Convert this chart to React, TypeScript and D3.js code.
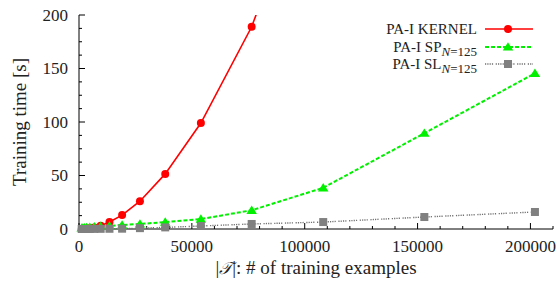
import React from 'react';
import * as d3 from 'd3';

// training set sizes (shared by all three runs)
const sizes = [1200, 1700, 2400, 3400, 4800, 6800, 9600, 13500, 19100, 27000, 38200, 54000, 76500, 108200, 153000, 202000];

// training time in seconds
const kernelTimes = [0.1, 0.2, 0.3, 0.5, 0.8, 1.5, 3, 6.5, 13, 26, 51.5, 99, 189, 370];
const spTimes = [1, 1, 1.2, 1.4, 1.7, 2, 2.5, 3, 3.7, 4.7, 6.5, 9.3, 17.5, 38.5, 89.5, 145.5];
const slTimes = [0, 0, 0, 0, 0.05, 0.1, 0.15, 0.2, 0.3, 0.8, 1.5, 2.8, 4.7, 6.5, 11.2, 15.9];

const xTicks = [0, 50000, 100000, 150000, 200000];
const yTicks = [0, 50, 100, 150, 200];

const width = 560;
const height = 284;
const margin = { top: 15, right: 7, bottom: 55, left: 79 };
const font = '"Liberation Serif", "Times New Roman", serif';

const red = '#ff0000';
const green = '#00f000';
const gray = '#808080';
const grayDash = '1.2,1.1,1.2,1.1,1.2,1.1,1.2,2.6';

const App = () => {
  const x = d3.scaleLinear().domain([0, 210000]).range([margin.left, width - margin.right]);
  const y = d3.scaleLinear().domain([0, 200]).range([height - margin.bottom, margin.top]);

  const line = d3.line<[number, number]>()
    .x(d => x(d[0]))
    .y(d => y(d[1]));

  const pairs = (vals: number[]) => vals.map((v, i) => [sizes[i], v] as [number, number]);
  const inside = (d: [number, number]) => d[1] <= 200 && d[0] <= 210000;

  const kernel = pairs(kernelTimes);
  const sp = pairs(spTimes);
  const sl = pairs(slTimes);

  const xMinor = d3.range(0, 210001, 10000);
  const yMinor = d3.range(0, 200.1, 12.5);
  const x0 = margin.left;
  const y0 = height - margin.bottom;

  const tri = (cx: number, cy: number, s: number) =>
    `M${cx},${cy - s} L${cx + s * 1.1},${cy + s * 0.75} L${cx - s * 1.1},${cy + s * 0.75} Z`;

  const legendRows = [
    { main: 'PA-I KERNEL', sub: false },
    { main: 'PA-I SP', sub: true },
    { main: 'PA-I SL', sub: true },
  ];
  const legendY = [29, 47, 64];
  const lx1 = 485;
  const lx2 = 533;
  const lxm = 508;

  return (
    <svg width={width} height={height} style={{ position: 'absolute', left: 0, top: 0, background: '#fff' }}>
      <defs>
        <clipPath id="plotArea">
          <rect x={margin.left} y={margin.top} width={width - margin.left - margin.right} height={y0 - margin.top} />
        </clipPath>
      </defs>

      {/* axes */}
      <g stroke="#000" strokeWidth={1} fill="none">
        <line x1={x0} y1={margin.top} x2={x0} y2={y0} />
        <line x1={x0} y1={y0} x2={width - margin.right} y2={y0} />
        {yMinor.map(t => (
          <line key={'yt' + t} x1={x0} x2={x0 + (t % 50 === 0 ? 6 : 3)} y1={y(t)} y2={y(t)} />
        ))}
        {xMinor.map(t => (
          <line key={'xt' + t} x1={x(t)} x2={x(t)} y1={y0} y2={y0 - (t % 50000 === 0 ? 6 : 3)} />
        ))}
      </g>

      <g fontFamily={font} fontSize={17} fill="#222">
        {yTicks.map(t => (
          <text key={'yl' + t} x={68} y={y(t)} dy="0.35em" textAnchor="end">{t}</text>
        ))}
        {xTicks.map(t => (
          <text key={'xl' + t} x={x(t)} y={252} textAnchor="middle">{t}</text>
        ))}
      </g>

      <g fontFamily={font} fontSize={19} fill="#222">
        <text transform={`translate(26,${(margin.top + y0) / 2}) rotate(-90)`} textAnchor="middle">Training time [s]</text>
        <text x={(x0 + width - margin.right) / 2} y={274} textAnchor="middle">
          |<tspan fontStyle="italic" fontFamily='"DejaVu Serif", serif' fontSize={17}>𝒯</tspan>|: # of training examples
        </text>
      </g>

      {/* series */}
      <g clipPath="url(#plotArea)" fill="none">
        <path d={line(kernel) || ''} stroke={red} strokeWidth={1.6} />
        <path d={line(sp) || ''} stroke={green} strokeWidth={2} strokeDasharray="4,2" />
        <path d={line(sl) || ''} stroke="#707070" strokeWidth={1.4} strokeDasharray={grayDash} />
      </g>
      <g fill={red}>
        {kernel.filter(inside).map(d => (
          <circle key={'k' + d[0]} cx={x(d[0])} cy={y(d[1])} r={4} />
        ))}
      </g>
      <g fill={green}>
        {sp.filter(inside).map(d => (
          <path key={'s' + d[0]} d={tri(x(d[0]), y(d[1]), 4.8)} />
        ))}
      </g>
      <g fill={gray}>
        {sl.filter(inside).map(d => (
          <rect key={'l' + d[0]} x={x(d[0]) - 4} y={y(d[1]) - 4} width={8} height={8} />
        ))}
      </g>

      {/* legend */}
      <g fontFamily={font} fill="#222">
        {legendRows.map((r, i) => (
          <text key={'lg' + i} x={477} y={legendY[i] + 5} textAnchor="end" fontSize={15}>
            {r.main}
            {r.sub && (
              <tspan dy={4} fontSize={13}>
                <tspan fontStyle="italic">N</tspan>=125
              </tspan>
            )}
          </text>
        ))}
      </g>
      <line x1={lx1} x2={lx2} y1={legendY[0]} y2={legendY[0]} stroke={red} strokeWidth={1.6} />
      <circle cx={lxm} cy={legendY[0]} r={4} fill={red} />
      <line x1={lx1} x2={lx2} y1={legendY[1]} y2={legendY[1]} stroke={green} strokeWidth={2} strokeDasharray="4,2" />
      <path d={tri(lxm, legendY[1], 4.8)} fill={green} />
      <line x1={lx1} x2={lx2} y1={legendY[2]} y2={legendY[2]} stroke="#707070" strokeWidth={1.4} strokeDasharray={grayDash} />
      <rect x={lxm - 4} y={legendY[2] - 4} width={8} height={8} fill={gray} />
    </svg>
  );
};

export default App;
